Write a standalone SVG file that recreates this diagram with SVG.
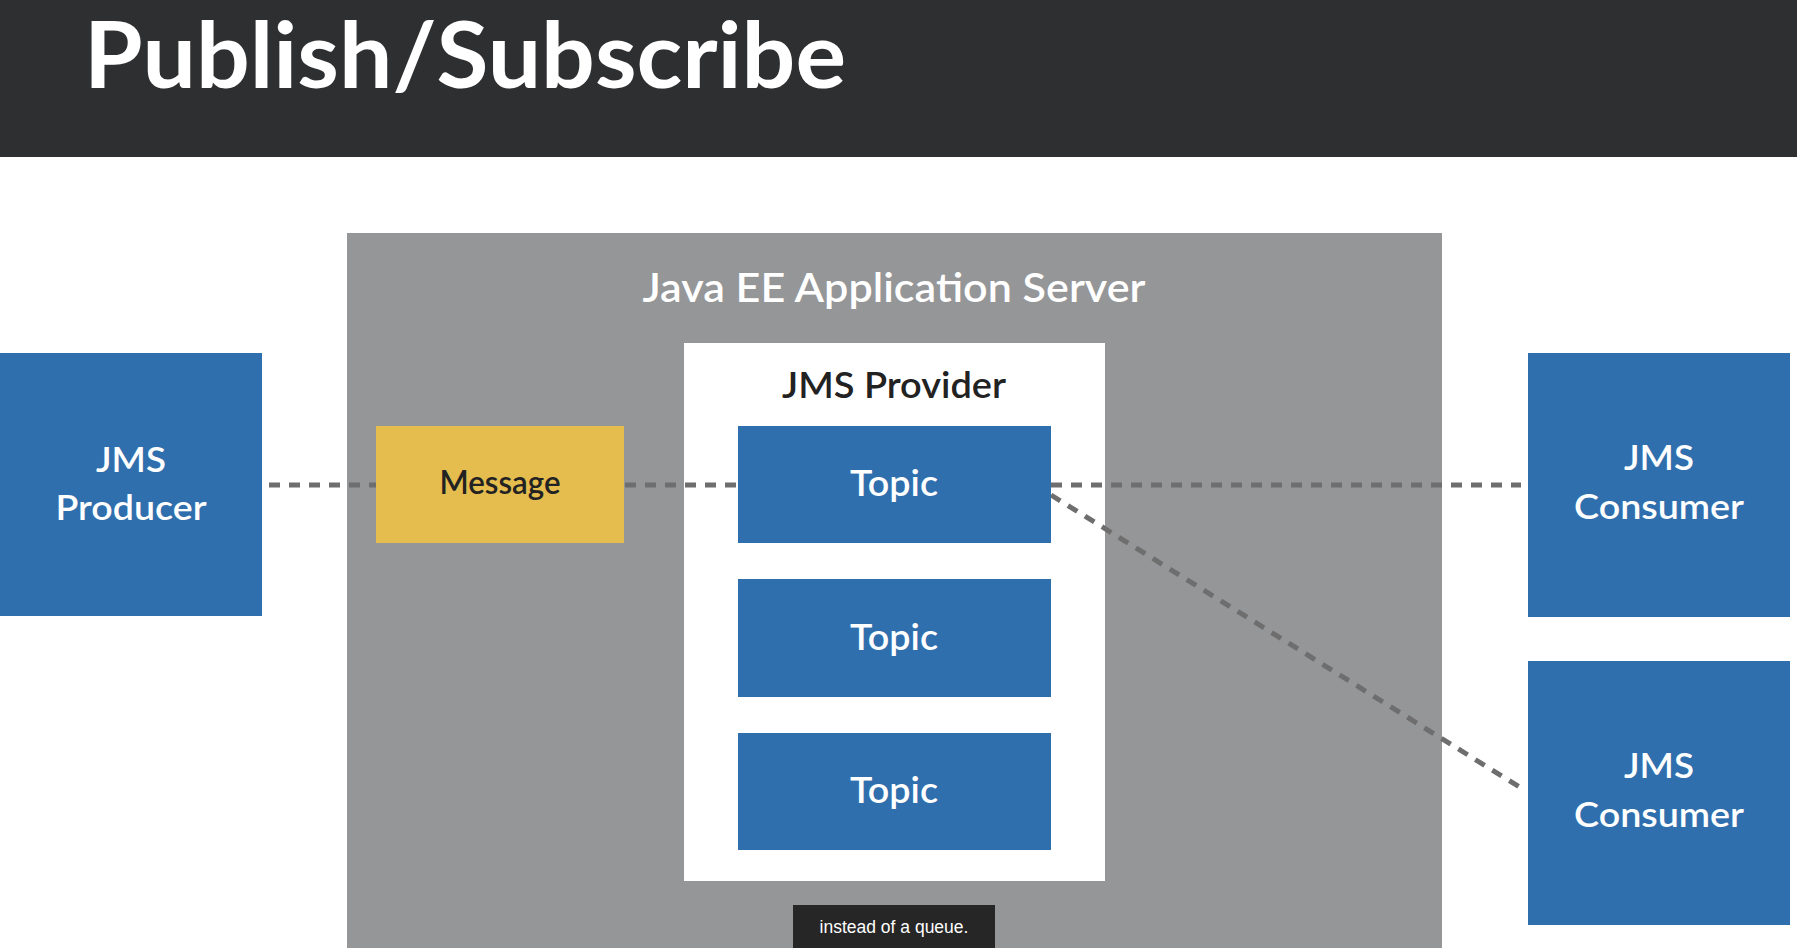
<svg xmlns="http://www.w3.org/2000/svg" width="1797" height="948" viewBox="0 0 1797 948">
  <style>
    .lbl { font-family: Lato, "Noto Sans", "DejaVu Sans", sans-serif; font-weight: 600; text-anchor: middle; }
    .w { fill: #ffffff; }
    .d { fill: #222222; }
    .blue { fill: #306fae; }
    .conn { stroke: #6e6e6e; stroke-width: 5; stroke-dasharray: 11 9; fill: none; }
  </style>
  <rect x="0" y="0" width="1797" height="948" fill="#ffffff"/>
  <g id="header">
    <rect x="0" y="0" width="1797" height="157" fill="#2e2f31"/>
    <text x="84" y="88" font-family="Lato, 'Noto Sans', sans-serif" font-weight="700" font-size="92" fill="#ffffff" textLength="762" lengthAdjust="spacingAndGlyphs">Publish/Subscribe</text>
  </g>
  <g id="server">
    <rect x="347" y="233" width="1095" height="715" fill="#959698"/>
    <text class="lbl w" x="894" y="302" font-size="40" textLength="503" lengthAdjust="spacingAndGlyphs">Java EE Application Server</text>
  </g>
  <g id="provider">
    <rect x="684" y="343" width="421" height="538" fill="#ffffff"/>
    <text class="lbl d" x="894" y="398" font-size="36" textLength="224" lengthAdjust="spacingAndGlyphs">JMS Provider</text>
  </g>
  <g id="connectors">
    <line class="conn" x1="269" y1="485" x2="377" y2="485"/>
    <line class="conn" x1="625" y1="485" x2="738" y2="485"/>
    <line class="conn" x1="1051" y1="485" x2="1521" y2="485"/>
    <line class="conn" x1="1051" y1="495" x2="1521" y2="788"/>
  </g>
  <g id="producer">
    <rect class="blue" x="0" y="353" width="262" height="263"/>
    <text class="lbl w" x="131" y="472" font-size="35" textLength="70" lengthAdjust="spacingAndGlyphs">JMS</text>
    <text class="lbl w" x="131" y="520" font-size="35" textLength="151" lengthAdjust="spacingAndGlyphs">Producer</text>
  </g>
  <g id="message">
    <rect x="376" y="426" width="248" height="117" fill="#e5bc4e"/>
    <text class="lbl d" x="500" y="494" font-size="32" textLength="121" lengthAdjust="spacingAndGlyphs">Message</text>
  </g>
  <g id="topic1">
    <rect class="blue" x="738" y="426" width="313" height="117"/>
    <text class="lbl w" x="894" y="496" font-size="36" textLength="88" lengthAdjust="spacingAndGlyphs">Topic</text>
  </g>
  <g id="topic2">
    <rect class="blue" x="738" y="579" width="313" height="118"/>
    <text class="lbl w" x="894" y="650" font-size="36" textLength="88" lengthAdjust="spacingAndGlyphs">Topic</text>
  </g>
  <g id="topic3">
    <rect class="blue" x="738" y="733" width="313" height="117"/>
    <text class="lbl w" x="894" y="803" font-size="36" textLength="88" lengthAdjust="spacingAndGlyphs">Topic</text>
  </g>
  <g id="consumer1">
    <rect class="blue" x="1528" y="353" width="262" height="264"/>
    <text class="lbl w" x="1659" y="470" font-size="35" textLength="70" lengthAdjust="spacingAndGlyphs">JMS</text>
    <text class="lbl w" x="1659" y="519" font-size="35" textLength="170" lengthAdjust="spacingAndGlyphs">Consumer</text>
  </g>
  <g id="consumer2">
    <rect class="blue" x="1528" y="661" width="262" height="264"/>
    <text class="lbl w" x="1659" y="778" font-size="35" textLength="70" lengthAdjust="spacingAndGlyphs">JMS</text>
    <text class="lbl w" x="1659" y="827" font-size="35" textLength="170" lengthAdjust="spacingAndGlyphs">Consumer</text>
  </g>
  <g id="caption">
    <rect x="793" y="905" width="202" height="43" fill="#262626"/>
    <text x="894" y="933" font-family="'Liberation Sans', Arial, sans-serif" font-size="17.5" fill="#ffffff" text-anchor="middle">instead of a queue.</text>
  </g>
</svg>
